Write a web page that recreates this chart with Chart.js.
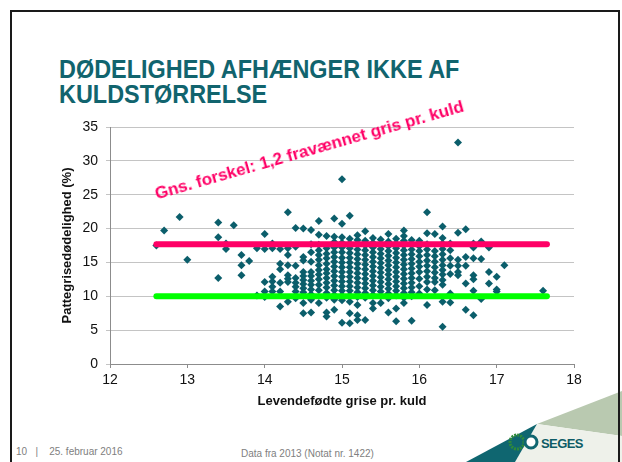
<!DOCTYPE html>
<html>
<head>
<meta charset="utf-8">
<script src="https://cdn.jsdelivr.net/npm/chart.js@4.4.1/dist/chart.umd.min.js"></script>
<style>
  body { margin: 0; background: #fff; font-family: "Liberation Sans", Arial, sans-serif; }
  #slide { position: relative; width: 622px; height: 462px; overflow: hidden; background: #fff; }
  #frame { position: absolute; left: 10px; top: 10px; width: 610px; height: 470px; border: 2px solid #1a1a1a; box-sizing: border-box; }
  #title { position: absolute; left: 59px; top: 57px; font-weight: bold; font-size: 25px; line-height: 25px; color: #11646e; transform: scaleX(0.937); transform-origin: 0 0; white-space: nowrap; }
  #note { position: absolute; left: 153px; top: 186px; font-weight: bold; font-size: 17px; line-height: 17px; color: #ff0066; transform: rotate(-16deg); transform-origin: 0 0; white-space: nowrap; }
  #chartBox { position: absolute; left: 40px; top: 110px; }
  .foot { position: absolute; font-size: 10px; color: #808080; white-space: nowrap; }
  #logo { position: absolute; left: 0; top: 0; }
</style>
</head>
<body>
<div id="slide">
  <svg id="logo" width="622" height="462">
    <polygon points="537,424 622,391 622,436" fill="#b9c9b0"/>
    <polygon points="537,424 622,436 622,462 515,462" fill="#eef1ea"/>
    <polygon points="466,462 537,424 515,462" fill="#0f6670"/>
    <circle cx="517" cy="442" r="7" fill="none" stroke="#2f8a3a" stroke-width="3" stroke-dasharray="2 1"/>
    <circle cx="531" cy="442" r="6" fill="#fff" stroke="#0f6670" stroke-width="3"/>
    <text x="541" y="448" font-family="Liberation Sans" font-weight="bold" font-size="13" letter-spacing="-0.6" fill="#0d5c66">SEGES</text>
  </svg>
  <div id="frame"></div>
  <div id="title">DØDELIGHED AFHÆNGER IKKE AF<br>KULDSTØRRELSE</div>
  <div id="chartBox"><canvas id="scatter" width="560" height="305"></canvas></div>
  <div id="note">Gns. forskel: 1,2 fravænnet gris pr. kuld</div>
  <div class="foot" style="left:16px; top:446px;">10&nbsp;&nbsp;&nbsp;|&nbsp;&nbsp;&nbsp;&nbsp;25. februar 2016</div>
  <div class="foot" style="left:241px; top:448px;">Data fra 2013 (Notat nr. 1422)</div>
</div>
<script>
// litter size (x) and piglet mortality values (y) read per column
const litterSize = [12.6, 12.7, 12.9, 13.0, 13.4, 13.5, 13.6, 13.7, 13.8, 13.9,
    14.0, 14.1, 14.2, 14.3, 14.4, 14.5, 14.6, 14.7, 14.8, 14.9,
    15.0, 15.1, 15.2, 15.3, 15.4, 15.5, 15.6, 15.7, 15.8, 15.9,
    16.0, 16.1, 16.2, 16.3, 16.4, 16.5, 16.6, 16.7, 16.8, 16.9,
    17.0, 17.1, 17.6];
const mortality = [
    [17.5],
    [19.7],
    [21.7],
    [15.4],
    [20.9, 18.7, 12.7],
    [17.8, 17.0],
    [20.5],
    [16.1, 14.6, 13.1],
    [15.2],
    [17.1, 10.1],
    [19.2, 17.0, 12.1, 10.7, 9.9],
    [17.8, 17.1, 12.9, 12.2, 11.4, 10.7],
    [17.0, 14.8, 14.0, 12.0, 10.7, 8.5],
    [22.4, 17.1, 16.1, 14.6, 13.1, 12.6, 12.1, 9.2],
    [20.1, 17.3, 14.5, 12.7, 12.0, 11.4, 10.7, 9.7],
    [20.0, 15.8, 15.3, 13.6, 13.0, 12.4, 11.8, 11.2, 10.6, 10.2, 9.0, 7.5],
    [19.8, 17.7, 16.5, 15.1, 13.6, 13.0, 12.3, 11.7, 11.0, 10.3, 9.5, 7.6],
    [21.1, 19.1, 17.6, 16.8, 16.1, 15.4, 14.6, 13.9, 13.2, 12.5, 11.7, 10.9, 9.0],
    [18.9, 17.1, 16.3, 15.6, 14.8, 14.0, 13.4, 12.7, 12.0, 11.3, 10.5, 9.8, 7.6, 7.0],
    [21.5, 18.8, 18.0, 17.2, 16.5, 15.8, 15.1, 14.4, 13.7, 13.0, 12.3, 11.6, 10.9, 10.2, 9.5, 8.0],
    [27.3, 20.7, 18.7, 17.9, 17.2, 16.5, 15.7, 15.0, 14.3, 13.6, 12.9, 12.2, 11.5, 10.8, 10.1, 9.4, 6.1],
    [21.9, 18.5, 17.8, 17.1, 16.4, 15.7, 15.0, 14.3, 13.6, 12.9, 12.2, 11.5, 10.8, 10.1, 9.2, 7.5, 6.0],
    [19.0, 18.3, 17.6, 16.9, 16.2, 15.5, 14.8, 14.1, 13.4, 12.7, 12.0, 11.3, 10.6, 9.9, 8.7, 7.2, 6.5],
    [19.6, 18.2, 17.5, 16.8, 16.1, 15.4, 14.7, 14.0, 13.3, 12.6, 11.9, 11.2, 10.5, 9.8, 6.5],
    [18.6, 17.9, 17.2, 16.5, 15.8, 15.1, 14.4, 13.7, 13.0, 12.3, 11.6, 10.9, 10.2, 9.0, 8.2],
    [18.4, 17.7, 17.0, 16.3, 15.6, 14.9, 14.2, 13.5, 12.8, 12.1, 11.4, 10.7, 10.0, 9.0],
    [19.2, 18.1, 17.4, 16.7, 16.0, 15.3, 14.6, 13.9, 13.2, 12.5, 11.8, 11.1, 10.4, 9.7, 7.6],
    [18.5, 17.8, 17.1, 16.4, 15.7, 15.0, 14.3, 13.6, 12.9, 12.2, 11.5, 10.8, 10.1, 8.2, 6.3],
    [19.7, 18.9, 18.2, 17.5, 16.8, 16.1, 15.4, 14.7, 14.0, 13.3, 12.6, 11.9, 11.2, 10.5, 9.8, 9.0],
    [18.3, 17.6, 16.9, 16.2, 15.5, 14.8, 14.1, 13.4, 12.7, 12.0, 11.3, 10.6, 10.0, 6.4],
    [18.2, 17.4, 16.7, 15.9, 15.1, 14.4, 13.6, 12.6, 11.5, 10.4],
    [22.4, 19.3, 17.7, 16.9, 16.1, 15.3, 14.5, 13.7, 12.9, 12.1, 11.0, 8.7],
    [19.2, 16.7, 15.9, 15.1, 14.3, 13.5, 12.7, 12.1, 10.9],
    [20.3, 18.6, 17.8, 17.0, 16.2, 15.4, 14.6, 13.9, 13.2, 12.4, 11.7, 9.2, 5.5],
    [17.8, 16.8, 15.6, 14.5, 13.3, 10.4, 9.1],
    [32.7, 19.4, 15.4, 14.5, 13.6, 13.1],
    [19.9, 15.8, 14.5, 11.9, 8.0],
    [17.8, 17.2, 15.6, 13.1, 12.5, 10.8, 7.2],
    [18.1, 15.5, 9.6],
    [17.2, 13.6, 11.9],
    [12.9, 11.0, 10.7],
    [14.6],
    [10.8]
];
// the two average lines
const avgRange = [12.6, 17.65];
const avgHigh = 17.7;
const avgLow = 10.0;

const xTicks = [12, 13, 14, 15, 16, 17, 18];
const yTicks = [0, 5, 10, 15, 20, 25, 30, 35];

const points = [];
litterSize.forEach((x, i) => {
    mortality[i].forEach(y => points.push({ x: x, y: y }));
});

const ctx = document.getElementById('scatter').getContext('2d');
new Chart(ctx, {
    type: 'scatter',
    data: {
        datasets: [{
            type: 'line',
            data: avgRange.map(x => ({ x: x, y: avgHigh })),
            borderColor: '#ff0066',
            borderWidth: 6,
            pointRadius: 0,
            borderCapStyle: 'round',
            order: 0
        }, {
            type: 'line',
            data: avgRange.map(x => ({ x: x, y: avgLow })),
            borderColor: '#00ff00',
            borderWidth: 6,
            pointRadius: 0,
            borderCapStyle: 'round',
            order: 1
        }, {
            data: points,
            pointStyle: 'rectRot',
            pointRadius: 4,
            backgroundColor: '#0b5e6b',
            borderColor: '#0b5e6b',
            borderWidth: 0,
            order: 2
        }]
    },
    options: {
        responsive: false,
        devicePixelRatio: 1,
        animation: false,
        layout: { padding: { top: 17, right: 26, left: 0, bottom: 0 }, autoPadding: false },
        plugins: { legend: { display: false }, tooltip: { enabled: false } },
        scales: {
            x: {
                type: 'linear',
                min: 12, max: 18,
                afterBuildTicks: s => { s.ticks = xTicks.map(v => ({ value: v })); },
                afterFit: s => { s.height = 51; },
                grid: { drawOnChartArea: false, drawTicks: true, tickLength: 4, color: '#8c8c8c' },
                border: { color: '#8c8c8c' },
                ticks: { color: '#111', font: { family: 'Liberation Sans', size: 14 }, padding: 4 },
                title: {
                    display: true, text: 'Levendefødte grise pr. kuld', color: '#111',
                    font: { family: 'Liberation Sans', size: 13, weight: 'bold' },
                    padding: { top: 0, bottom: 6 }
                }
            },
            y: {
                type: 'linear',
                min: 0, max: 35,
                afterBuildTicks: s => { s.ticks = yTicks.map(v => ({ value: v })); },
                afterFit: s => { s.width = 70; },
                grid: { color: '#c4c4c4', tickLength: 4 },
                border: { color: '#8c8c8c' },
                ticks: { color: '#111', font: { family: 'Liberation Sans', size: 14 }, padding: 8 },
                title: {
                    display: true, text: 'Pattegrisedødelighed (%)', color: '#111',
                    font: { family: 'Liberation Sans', size: 13, weight: 'bold' },
                    padding: { top: 20, bottom: 0 }
                }
            }
        }
    }
});
</script>
</body>
</html>
